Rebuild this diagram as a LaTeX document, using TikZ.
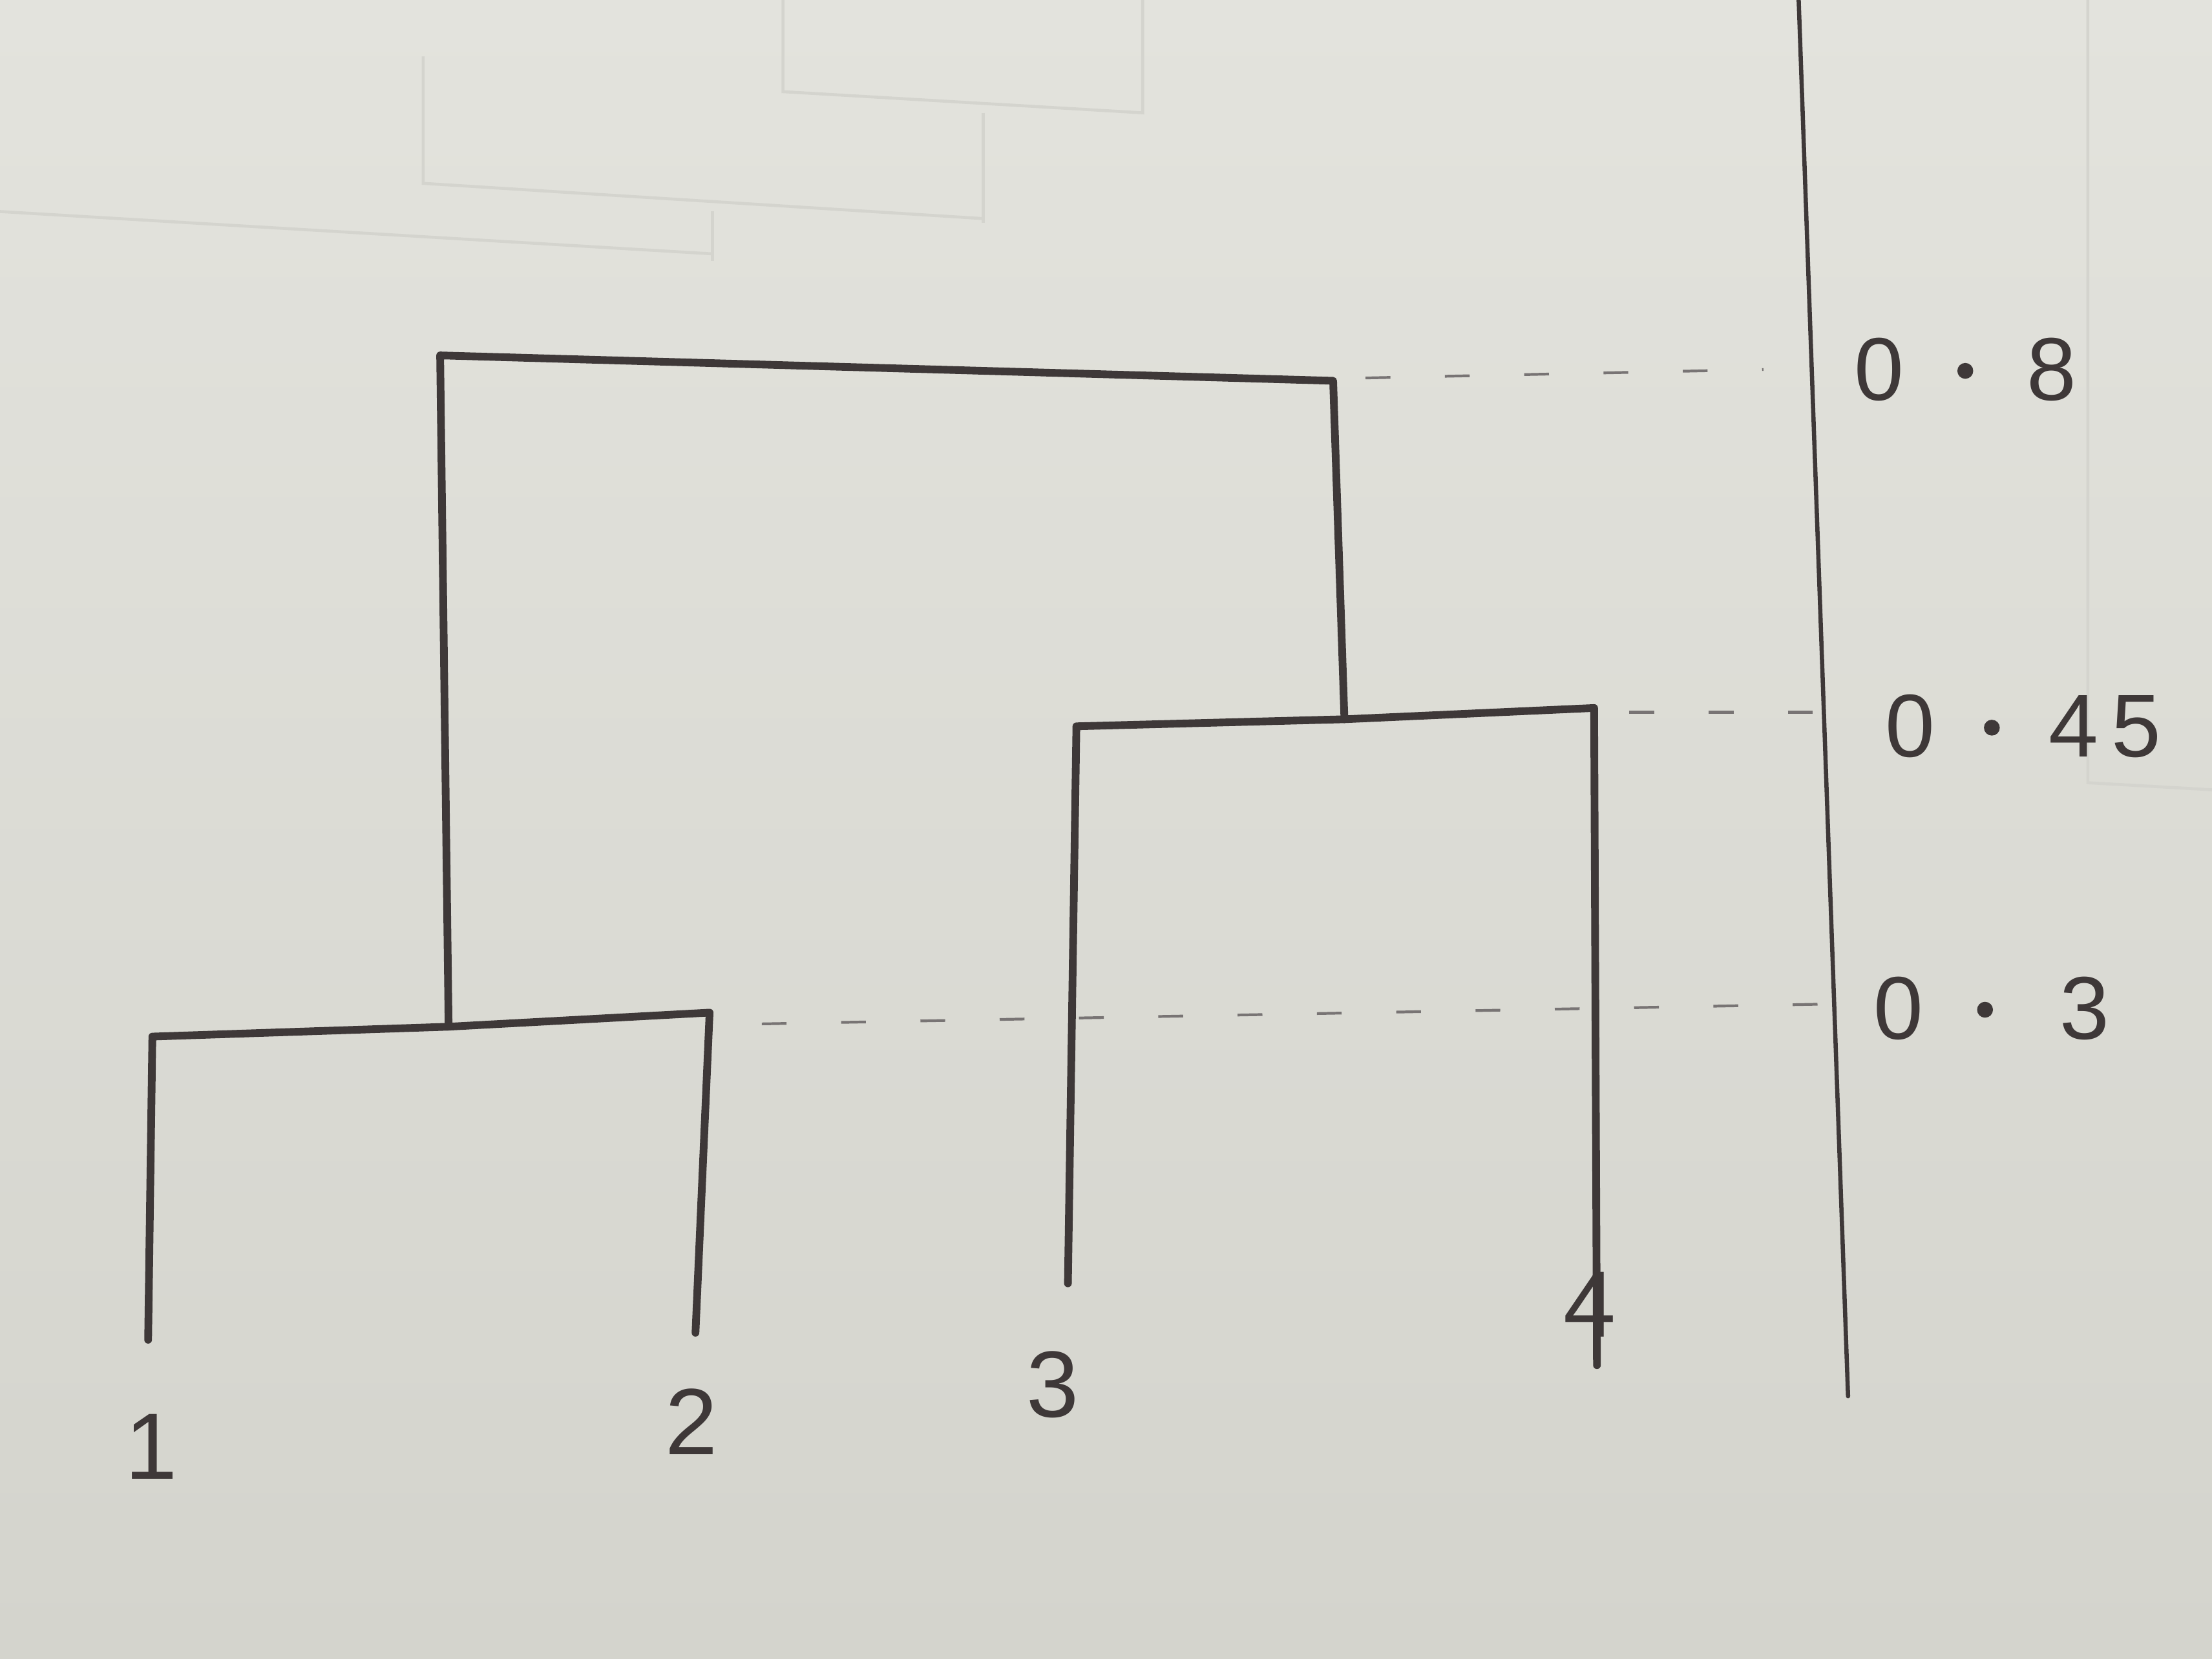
\documentclass[tikz,border=0pt]{standalone}
\usepackage{fontspec}
\setmainfont{Liberation Sans}
\definecolor{paper}{RGB}{227,227,221}
\definecolor{paperdark}{RGB}{212,212,205}
\definecolor{ink}{RGB}{62,56,56}
\definecolor{ghost}{RGB}{212,212,206}
\newcommand{\bigdot}{\raisebox{0.24em}{\tikz\fill[ink] (0,0) circle (3.2pt);}}
\begin{document}
\begin{tikzpicture}[x=0.02cm,y=-0.02cm,
  branch/.style={draw=ink,line width=3.1pt,line cap=round,line join=round},
  axisline/.style={draw=ink,line width=1.7pt,line cap=round},
  guide/.style={draw=ink!70,line width=1.1pt,dash pattern=on 10pt off 22pt},
  ghostline/.style={draw=ghost,line width=1.2pt},
  leaflabel/.style={text=ink,font=\fontsize{38}{40}\selectfont,inner sep=0pt},
  heightlabel/.style={text=ink,font=\fontsize{36}{40}\selectfont,inner sep=0pt,anchor=west}]
\useasboundingbox (0,0) rectangle (1568,1176);
\shade[top color=paper,bottom color=paperdark] (0,0) rectangle (1568,1176);
% faint bleed-through from the other side of the sheet
\draw[ghostline] (300,40) -- (300,130) -- (697,155);
\draw[ghostline] (0,150) -- (505,180);
\draw[ghostline] (505,150) -- (505,185);
\draw[ghostline] (697,80) -- (697,158);
\draw[ghostline] (555,0) -- (555,65) -- (810,80) -- (810,0);
\draw[ghostline] (1480,0) -- (1480,555) -- (1568,560);
% tree points
\coordinate (l1) at (105,950);
\coordinate (t1) at (108,735);
\coordinate (l2) at (493,945);
\coordinate (t2) at (503,718);
\coordinate (m12) at (318,728);
\coordinate (a12) at (312,252);
\coordinate (a34) at (945,270);
\coordinate (m34) at (953,510);
\coordinate (t3) at (763,515);
\coordinate (l3) at (757,910);
\coordinate (t4) at (1130,502);
\coordinate (l4) at (1132,968);
% branches
\path[branch] (l1) -- (t1) -- (m12) -- (t2) -- (l2);
\path[branch] (m12) -- (a12) -- (a34) -- (m34);
\path[branch] (l3) -- (t3) -- (m34) -- (t4) -- (l4);
% axis
\coordinate (axtop) at (1275,0);
\coordinate (axbot) at (1310,990);
\path[axisline] (axtop) -- (axbot);
% guide lines
\coordinate (g8a) at (968,268);
\coordinate (g8b) at (1250,262);
\coordinate (g45a) at (1155,505);
\coordinate (g45b) at (1288,505);
\coordinate (g3a) at (540,726);
\coordinate (g3b) at (1292,712);
\path[guide] (g8a) -- (g8b);
\path[guide] (g45a) -- (g45b);
\path[guide] (g3a) -- (g3b);
% labels
\node[leaflabel] (n1) at (107,1026) {1};
\node[leaflabel] (n2) at (490,1008) {2};
\node[leaflabel] (n3) at (746,982) {3};
\node[leaflabel] (n4) at (1127,925) {4};
\node[heightlabel] (h8) at (1314,262) {0\kern0.6em\bigdot\kern0.6em8};
\node[heightlabel] (h45) at (1336,515) {0\kern0.55em\bigdot\kern0.55em4\kern0.15em5};
\node[heightlabel] (h3) at (1328,715) {0\kern0.6em\bigdot\kern0.75em3};
\end{tikzpicture}
\end{document}
